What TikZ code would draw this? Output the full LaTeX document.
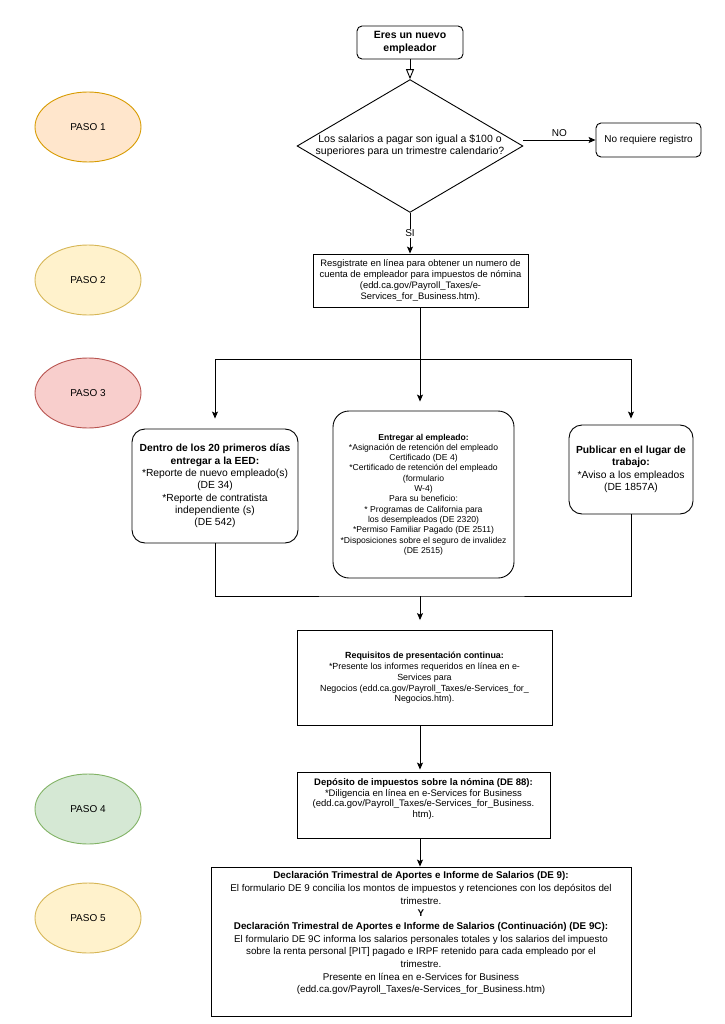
\documentclass[tikz,border=0pt]{standalone}
\usepackage{fontspec}
\setmainfont{Liberation Sans}
\usetikzlibrary{shapes.geometric,arrows.meta,positioning,calc}
\definecolor{pasoorange}{HTML}{FFE6CC}
\definecolor{pasoorangeline}{HTML}{D79B00}
\definecolor{pasoyellow}{HTML}{FFF2CC}
\definecolor{pasoyellowline}{HTML}{D6B656}
\definecolor{pasored}{HTML}{F8CECC}
\definecolor{pasoredline}{HTML}{B85450}
\definecolor{pasogreen}{HTML}{D5E8D4}
\definecolor{pasogreenline}{HTML}{82B366}
\newcommand{\fsz}[2]{\fontsize{#1}{#2}\selectfont}

\begin{document}
\begin{tikzpicture}[x=1pt, y=-1pt, line width=0.9pt,
  paso/.style={ellipse, draw, minimum width=106pt, minimum height=70pt, font=\fsz{10}{12}},
  rbox/.style={draw, rounded corners=#1, align=center, inner sep=0pt},
  rbox/.default=12pt,
  sbox/.style={draw, align=center, inner sep=0pt},
  arr/.style={-{Stealth[length=7pt,width=6pt,inset=1.5pt]}}
]
\useasboundingbox (0,0) rectangle (724,1024);

% Pasos
\node[paso, fill=pasoorange, draw=pasoorangeline] (paso1) at (88,127) {PASO 1};
\node[paso, fill=pasoyellow, draw=pasoyellowline] (paso2) at (88,280) {PASO 2};
\node[paso, fill=pasored, draw=pasoredline] (paso3) at (88,393) {PASO 3};
\node[paso, fill=pasogreen, draw=pasogreenline] (paso4) at (88,809) {PASO 4};
\node[paso, fill=pasoyellow, draw=pasoyellowline] (paso5) at (88,918) {PASO 5};

% Inicio y decision
\node[rbox=5pt, minimum width=106pt, minimum height=33pt, font=\fsz{10.5}{12.5}\bfseries] (inicio) at (410,42.5) {Eres un nuevo\\empleador};
\node[draw, diamond, aspect=1.7, inner sep=0pt, minimum width=223pt, minimum height=131pt, align=center, font=\fsz{10.5}{12}] (salarios) at (410,146)
  {Los salarios a pagar son igual a \$100 o\\superiores para un trimestre calendario?};
\node[rbox=5pt, minimum width=105pt, minimum height=34pt, font=\fsz{10}{12}] (noreg) at (648.5,140) {No requiere registro};

% Registro
\node[sbox, minimum width=215pt, minimum height=53pt, font=\fsz{9.4}{10.9}] (registro) at (420.5,280.5)
  {Resgistrate en línea para obtener un numero de\\cuenta de empleador para impuestos de nómina\\(edd.ca.gov/Payroll\_Taxes/e-\\Services\_for\_Business.htm).};

% Paso 3
\node[rbox=13pt, minimum width=166pt, minimum height=114pt, font=\fsz{10.3}{12.3}] (dentro) at (215,486)
  {\textbf{Dentro de los 20 primeros días}\\\textbf{entregar a la EED:}\\*Reporte de nuevo empleado(s)\\(DE 34)\\*Reporte de contratista\\independiente (s)\\(DE 542)};
\node[rbox=16pt, minimum width=181pt, minimum height=167pt, font=\fsz{8.6}{10.3}] (entregar) at (423.5,494.5)
  {\textbf{Entregar al empleado:}\\*Asignación de retención del empleado\\Certificado (DE 4)\\*Certificado de retención del empleado\\(formulario\\W-4)\\Para su beneficio:\\* Programas de California para\\los desempleados (DE 2320)\\*Permiso Familiar Pagado (DE 2511)\\*Disposiciones sobre el seguro de invalidez\\(DE 2515)};
\node[rbox=13pt, minimum width=124pt, minimum height=89pt, font=\fsz{10.3}{12.5}] (publicar) at (631,469.5)
  {\textbf{Publicar en el lugar de}\\\textbf{trabajo:}\\*Aviso a los empleados\\(DE 1857A)};

\node[sbox, minimum width=255pt, minimum height=95pt, font=\fsz{8.9}{10.7}] (requisitos) at (424.5,678)
  {\textbf{Requisitos de presentación continua:}\\*Presente los informes requeridos en línea en e-\\Services para\\\makebox[240pt]{Negocios (edd.ca.gov/Payroll\_Taxes/e-Services\_for\_}\\Negocios.htm).};

% Paso 4 y 5
\node[sbox, minimum width=253pt, minimum height=66pt, font=\fsz{9.5}{10.8}] (deposito) at (423.5,805)
  {\textbf{Depósito de impuestos sobre la nómina (DE 88):}\\*Diligencia en línea en e-Services for Business\\\makebox[240pt]{(edd.ca.gov/Payroll\_Taxes/e-Services\_for\_Business.}\\htm).\\[3pt]};
\node[sbox, minimum width=420pt, minimum height=149pt, font=\fsz{9.8}{12.7}] (declaracion) at (421,941.5)
  {\textbf{Declaración Trimestral de Aportes e Informe de Salarios (DE 9):}\\
   El formulario DE 9 concilia los montos de impuestos y retenciones con los depósitos del\\
   trimestre.\\
   \textbf{Y}\\
   \textbf{Declaración Trimestral de Aportes e Informe de Salarios (Continuación) (DE 9C):}\\
   El formulario DE 9C informa los salarios personales totales y los salarios del impuesto\\
   sobre la renta personal [PIT] pagado e IRPF retenido para cada empleado por el\\
   trimestre.\\
   Presente en línea en e-Services for Business\\
   (edd.ca.gov/Payroll\_Taxes/e-Services\_for\_Business.htm)\\[6pt]};

% Conectores
\coordinate (split) at (420,359);
\coordinate (join) at (420,596);
\draw[-{Triangle[open,length=10pt,width=8pt]}] (inicio) -- (salarios.north);
\draw[arr] (salarios.east |- noreg) -- node[above, font=\fsz{10}{12}] {NO} (noreg);
\draw[arr] (salarios.south) -- node[fill=white, inner sep=1pt, font=\fsz{10}{12}] {SI} (salarios.south |- registro.north);
\draw (registro.south -| split) -- (split);
\draw[arr, shorten >=10pt] (split) -| (dentro.north);
\draw[arr, shorten >=9pt] (split) -- (split |- entregar.north);
\draw[arr, shorten >=6pt] (split) -| (publicar.north);
\draw (dentro.south) |- (join) -| (publicar.south);
\draw[arr, shorten >=10pt] (join) -- (join |- requisitos.north);
\draw[arr, shorten >=2pt] (join |- requisitos.south) -- (join |- deposito.north);
\draw[arr] (join |- deposito.south) -- (join |- declaracion.north);
\end{tikzpicture}
\end{document}
